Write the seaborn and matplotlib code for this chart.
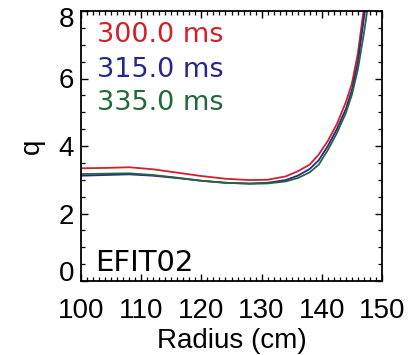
import matplotlib
matplotlib.use("Agg")
import matplotlib.pyplot as plt
import numpy as np
import pandas as pd
import seaborn as sns
from matplotlib.ticker import MultipleLocator, FixedLocator
from matplotlib.transforms import ScaledTranslation

# ---- data ----
radius = [100, 104, 108, 112, 116, 120, 124, 128, 131, 134, 136, 138,
          139.5, 141, 142.5, 144, 145, 146, 147, 148]
q_300 = [3.34, 3.35, 3.37, 3.31, 3.21, 3.11, 3.03, 2.99, 3.00, 3.10, 3.25, 3.45,
         3.75, 4.15, 4.65, 5.30, 5.85, 6.75, 8.10, 9.40]
q_315 = [3.12, 3.14, 3.16, 3.12, 3.05, 2.97, 2.91, 2.89, 2.91, 2.99, 3.12, 3.32,
         3.58, 4.00, 4.50, 5.10, 5.65, 6.50, 7.80, 9.10]
q_335 = [3.17, 3.18, 3.19, 3.14, 3.06, 2.97, 2.91, 2.88, 2.89, 2.95, 3.05, 3.22,
         3.45, 3.88, 4.38, 4.98, 5.52, 6.28, 7.35, 8.55]
times = ["300.0 ms", "315.0 ms", "335.0 ms"]
colors = ["#d2202b", "#26268e", "#23683a"]
x_ticks = [100, 110, 120, 130, 140, 150]
y_ticks = [0, 2, 4, 6, 8]

sns.set_theme(style="ticks")
plt.rcParams["font.family"] = ["Liberation Sans", "DejaVu Sans"]
plt.rcParams["text.color"] = "black"
plt.rcParams["axes.labelcolor"] = "black"

df = pd.DataFrame({
    "Radius": radius * 3,
    "q": q_300 + q_315 + q_335,
    "time": [t for t in times for _ in radius],
})

fig = plt.figure(figsize=(4.09, 3.55), dpi=100)
ax = fig.add_axes([81 / 409, 74 / 355, 301 / 409, 270 / 355])

sns.lineplot(data=df, x="Radius", y="q", hue="time", hue_order=times,
             palette=colors, linewidth=1.3, legend=False, ax=ax,
             estimator=None, sort=False)

ax.set_xlim(100, 150)
ax.set_ylim(0, 8)
ax.xaxis.set_major_locator(FixedLocator(x_ticks))
ax.xaxis.set_minor_locator(MultipleLocator(1))
ax.yaxis.set_major_locator(FixedLocator(y_ticks))
ax.yaxis.set_minor_locator(MultipleLocator(0.5))

for s in ax.spines.values():
    s.set_linewidth(1.3)
    s.set_color("black")

ax.tick_params(which="both", direction="in", top=True, right=True,
               colors="black", labelcolor="black", labelsize=20)
ax.tick_params(which="major", length=5, width=1.0)
ax.tick_params(which="minor", length=2.6, width=0.9)
ax.tick_params(axis="x", which="major", pad=12)
ax.tick_params(axis="y", which="major", pad=5)

ax.set_xlabel("Radius (cm)", fontsize=20, labelpad=3, color="black")
ax.set_ylabel("q", fontsize=20, labelpad=10, color="black")

for t, c, yy in zip(times, colors, [0.911, 0.781, 0.659]):
    ax.text(0.053, yy, t, color=c, transform=ax.transAxes, ha="left",
            va="center", fontsize=19.5, family="DejaVu Sans")
ax.text(0.046, 0.068, "EFIT02", color="black", transform=ax.transAxes,
        ha="left", va="center", fontsize=21, family="DejaVu Sans")

fig.canvas.draw()
ylabs = ax.get_yticklabels()
ylabs[0].set_va("baseline")
ylabs[-1].set_transform(ylabs[-1].get_transform() +
                        ScaledTranslation(0, -0.06, fig.dpi_scale_trans))

fig.savefig("out.png", dpi=100)
